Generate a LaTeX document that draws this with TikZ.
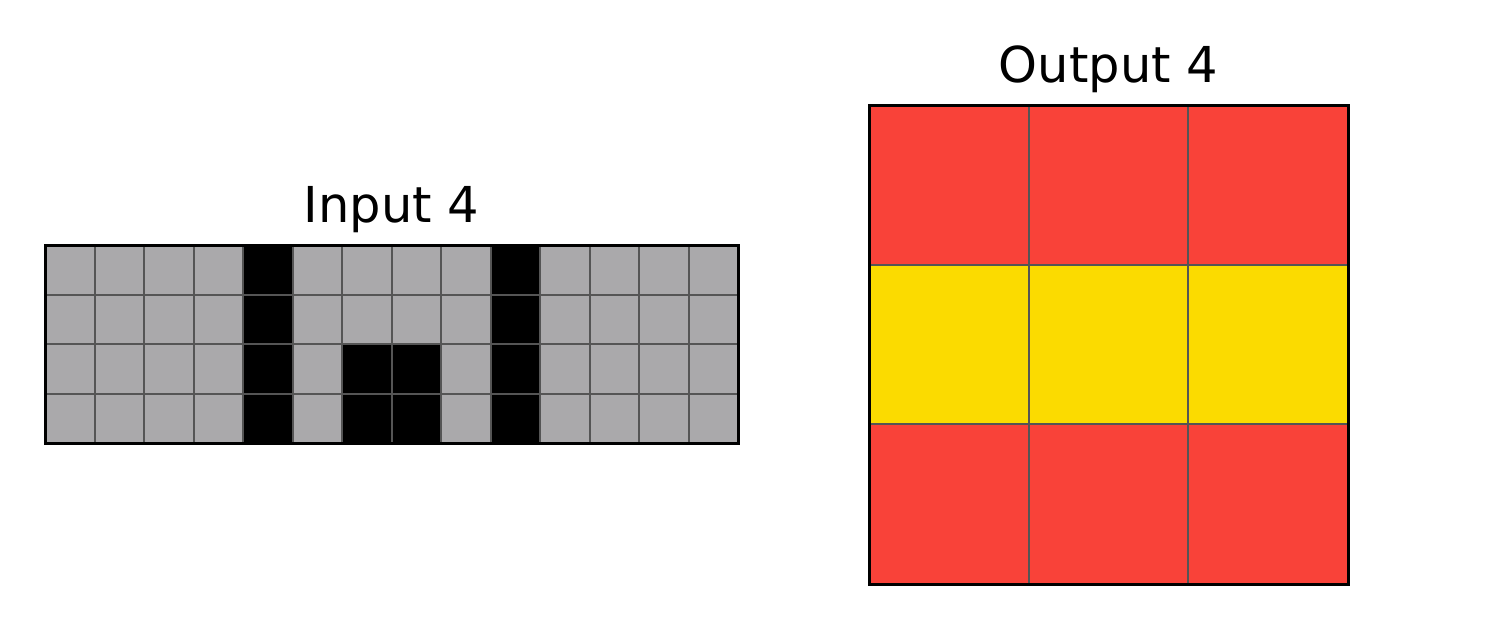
\documentclass[tikz,border=0pt]{standalone}
\usepackage{fontspec}
\setmainfont{DejaVu Sans}
\definecolor{cgray}{HTML}{AAA9AB}
\definecolor{cred}{HTML}{F94239}
\definecolor{cyel}{HTML}{FBDB00}
\definecolor{cline}{HTML}{555555}
\begin{document}
\begin{tikzpicture}[x=1pt,y=-1pt,
  title/.style={anchor=base,inner sep=0pt,font=\fontsize{49.5}{59}\selectfont},
  gridline/.style={draw=cline,line width=2pt},
  border/.style={draw=black,line width=3pt}]
\useasboundingbox (0,0) rectangle (1500,629);
% Input grid
\def\ix{45}\def\iy{245}\def\ic{49.5}
\fill[cgray] (\ix,\iy) rectangle ++(14*\ic,4*\ic);
\foreach \c in {4,9} \fill[black] (\ix+\c*\ic,\iy) rectangle ++(\ic,4*\ic);
\fill[black] (\ix+6*\ic,\iy+2*\ic) rectangle ++(2*\ic,2*\ic);
\foreach \i in {1,...,13} \draw[gridline] (\ix+\i*\ic,\iy) -- ++(0,4*\ic);
\foreach \j in {1,2,3} \draw[gridline] (\ix,\iy+\j*\ic) -- ++(14*\ic,0);
\draw[border] (\ix,\iy) rectangle ++(14*\ic,4*\ic);
\node[title] (tin) at (391.5,222) {Input 4};
% Output grid
\def\ox{869}\def\oy{105}\def\oc{159.67}
\fill[cred] (\ox,\oy) rectangle ++(3*\oc,\oc);
\fill[cyel] (\ox,\oy+\oc) rectangle ++(3*\oc,\oc);
\fill[cred] (\ox,\oy+2*\oc) rectangle ++(3*\oc,\oc);
\foreach \i in {1,2} {
  \draw[gridline] (\ox+\i*\oc,\oy) -- ++(0,3*\oc);
  \draw[gridline] (\ox,\oy+\i*\oc) -- ++(3*\oc,0);
}
\draw[border] (\ox,\oy) rectangle ++(3*\oc,3*\oc);
\node[title] (tout) at (1108.5,82) {Output 4};
\end{tikzpicture}
\end{document}
